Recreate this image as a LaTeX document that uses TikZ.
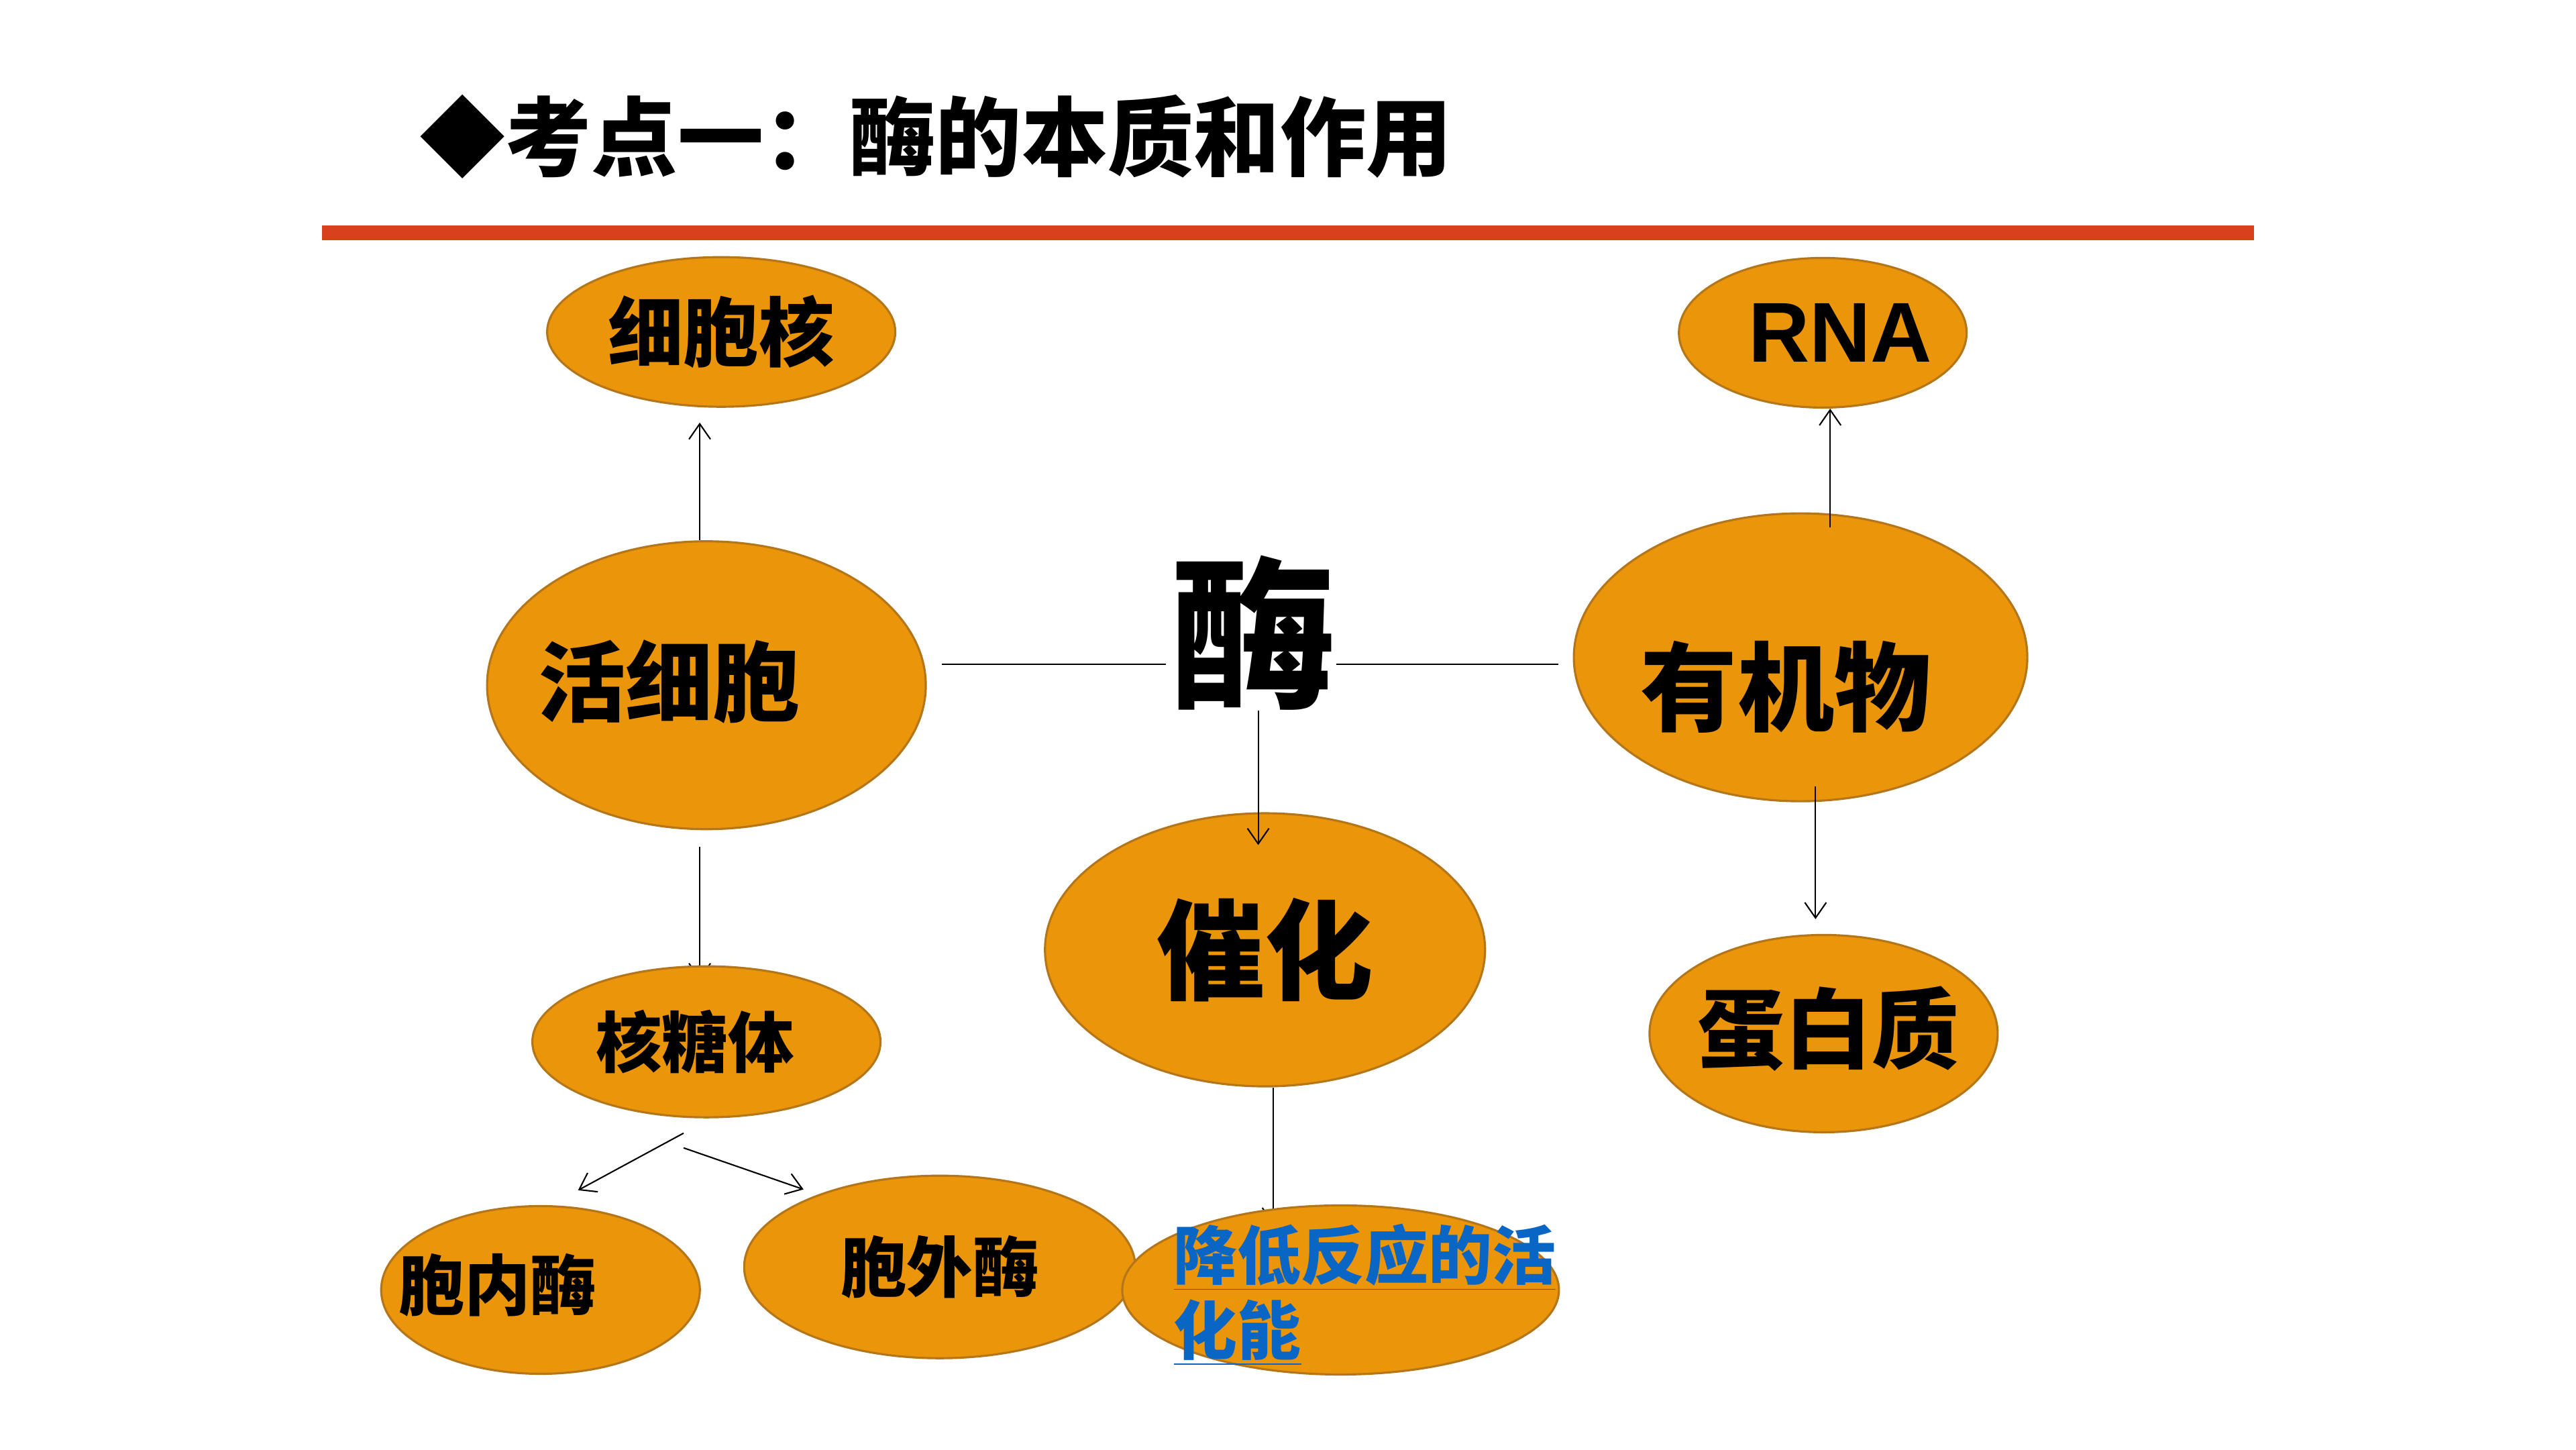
\documentclass[tikz,border=0pt]{standalone}
\usepackage{fontspec}
\newfontfamily\cjk{Noto Sans CJK SC}
\newfontfamily\latf{Liberation Sans}
\usetikzlibrary{shapes.geometric, arrows.meta}
\definecolor{blobfill}{HTML}{EB950A}
\definecolor{blobline}{HTML}{B5761A}
\definecolor{barred}{HTML}{D9411E}
\definecolor{linkblue}{HTML}{0A66C4}
\newcommand{\fsz}[1]{\fontsize{#1}{#1}\selectfont}
\tikzstyle{blob} = [ellipse, draw=blobline, line width=0.9pt, fill=blobfill, inner sep=0pt, text=black, font=\cjk\bfseries]
\tikzstyle{edge} = [line width=0.6pt, -{Straight Barb[length=2.3mm, width=3.2mm]}]
\tikzstyle{link} = [line width=0.6pt]
\pgfdeclarelayer{back}
\pgfsetlayers{back,main}

\begin{document}
\begin{tikzpicture}[x=0.2449mm, y=-0.2449mm]

\useasboundingbox (0,0) rectangle (1568,882);

% title and bar
\node (title) [anchor=west, inner sep=0pt, font=\cjk\bfseries] at (255,83) {\fsz{36.5}◆考点一：酶的本质和作用};
\fill [barred] (196,137) rectangle (1372,146);

\node (mei) [inner sep=0pt, font=\cjk\bfseries] at (763,385) {\fsz{70}酶};

\node (xibaohe) [blob, minimum width=5.19cm, minimum height=2.23cm] at (439,202) {\fsz{32}细胞核};
\node (rna) [blob, minimum width=4.29cm, minimum height=2.23cm, label={[xshift=0.26cm, font=\latf\bfseries\fsz{36}]center:RNA}] at (1109.5,202.5) {};
\node (huoxibao) [blob, minimum width=6.54cm, minimum height=4.29cm, label={[xshift=-0.56cm, yshift=0.05cm, font=\cjk\bfseries\fsz{37}]center:活细胞}] at (430,417) {};
\node (youji) [blob, minimum width=6.76cm, minimum height=4.29cm, label={[xshift=-0.22cm, yshift=-0.44cm, font=\cjk\bfseries\fsz{41}]center:有机物}] at (1096,400) {};
\node (cuihua) [blob, minimum width=6.56cm, minimum height=4.07cm] at (770,578) {\fsz{46}催化};
\node (dbz) [blob, minimum width=5.19cm, minimum height=2.94cm, label={[xshift=0.07cm, yshift=0.07cm, font=\cjk\bfseries\fsz{37}]center:蛋白质}] at (1110,629) {};
\node (hetang) [blob, minimum width=5.19cm, minimum height=2.25cm, label={[xshift=-0.17cm, font=\cjk\bfseries\fsz{28}]center:核糖体}] at (430,634) {};
\node (bnm) [blob, minimum width=4.75cm, minimum height=2.50cm, label={[xshift=-0.64cm, yshift=0.07cm, font=\cjk\bfseries\fsz{28}]center:胞内酶}] at (329,785) {};
\node (bwm) [blob, minimum width=5.83cm, minimum height=2.72cm] at (572,771) {\fsz{28}胞外酶};
\node (jiangdi) [blob, minimum width=6.51cm, minimum height=2.52cm, label={[xshift=0.36cm, yshift=-0.07cm, inner sep=0pt, align=left, text=linkblue, font=\cjk\bfseries\fontsize{27}{32}\selectfont]center:{\underline{降低反应的活}\\\underline{化能}}}] at (816,785) {};

\coordinate (mleft) at ([yshift=-0.47cm]mei.west);
\coordinate (mright) at ([yshift=-0.47cm]mei.east);
\coordinate (huotop) at ([xshift=-0.1cm]huoxibao.north);
\coordinate (huofoot) at ([xshift=-0.1cm]huoxibao.south);
\coordinate (rnafoot) at ([xshift=0.11cm]rna.south);
\coordinate (dbztop) at ([xshift=-0.12cm]dbz.north);
\coordinate (meifoot) at ([xshift=0.07cm]mei.south);
\coordinate (cuifoot) at ([xshift=0.12cm]cuihua.south);

\draw [edge, shorten >=0.22cm] (huotop) -- (huotop |- xibaohe.south);
\draw [link, shorten <=0.07cm, shorten >=0.22cm] (mleft) -- (mleft -| huoxibao.east);
\draw [link, shorten >=0.22cm] (mright) -- (mright -| youji.west);
\draw [edge, shorten <=-0.22cm] (rnafoot |- youji.north) -- (rnafoot);
\draw [edge, shorten <=-0.24cm, shorten >=0.22cm] (dbztop |- youji.south) -- (dbztop);
\draw [edge, shorten >=-0.49cm] (meifoot) -- (meifoot |- cuihua.north);
\begin{pgfonlayer}{back}
\fill [white] (0,0) rectangle (1568,882);
\draw [edge, shorten <=0.25cm, shorten >=-0.22cm] (huofoot) -- (huofoot |- hetang.north);
\draw [edge, shorten >=-0.3cm] (cuifoot) -- (cuifoot |- jiangdi.north);
\end{pgfonlayer}
\draw [edge] ([xshift=-0.34cm, yshift=-0.22cm]hetang.south) -- ([xshift=0.56cm, yshift=0.22cm]bnm.north);
\draw [edge] ([xshift=-0.34cm, yshift=-0.44cm]hetang.south) -- ([xshift=-2.03cm, yshift=-0.22cm]bwm.north);

\end{tikzpicture}
\end{document}
